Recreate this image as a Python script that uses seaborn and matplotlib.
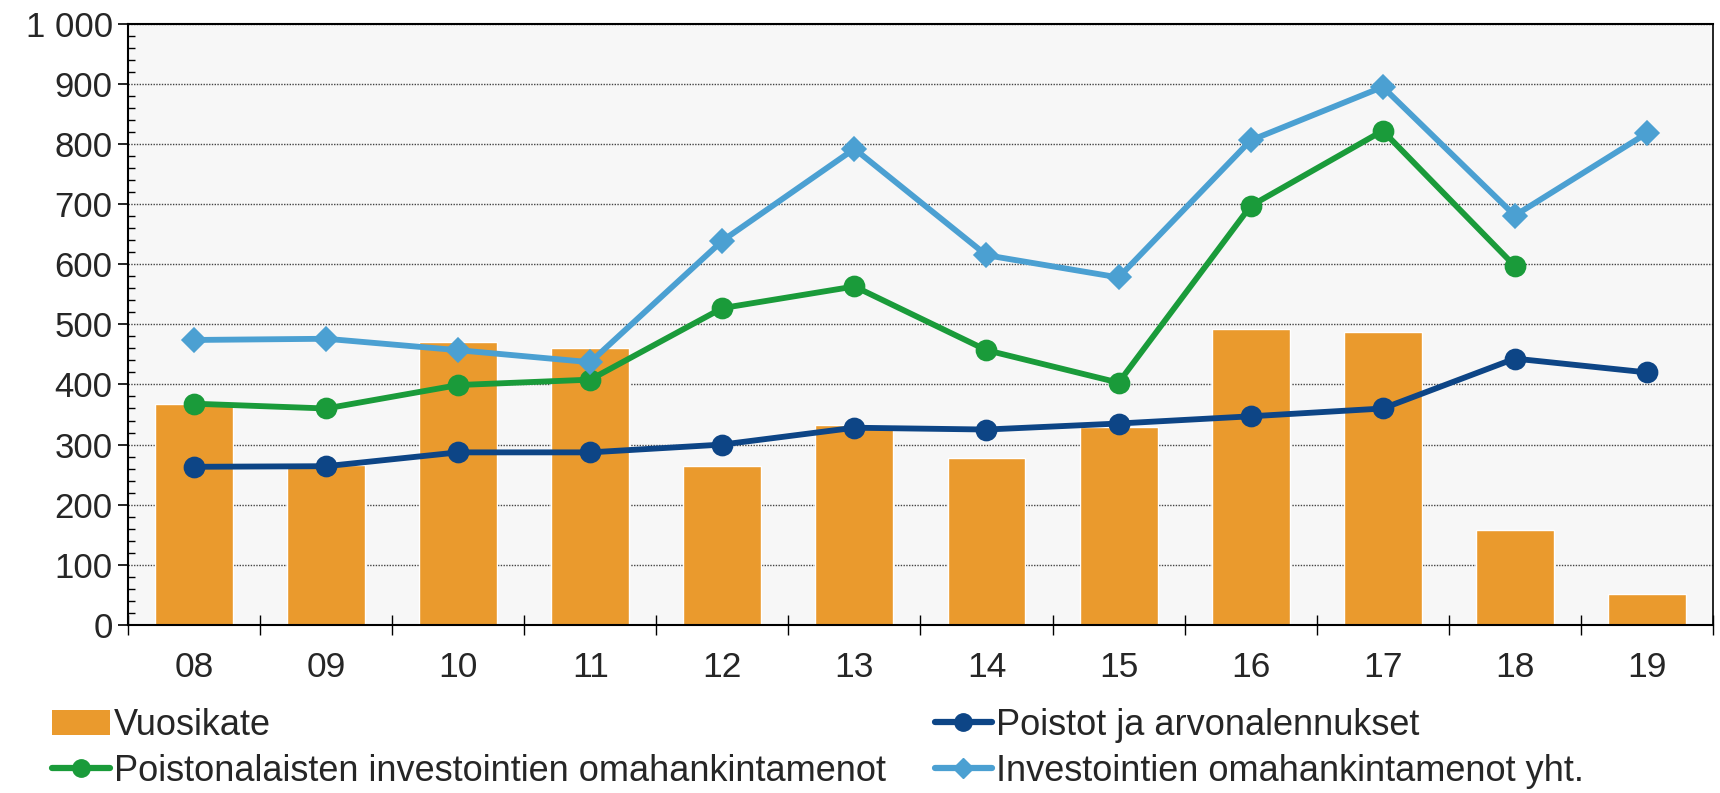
import numpy as np
import pandas as pd
import matplotlib
matplotlib.use("Agg")
import matplotlib.pyplot as plt
import seaborn as sns
from matplotlib.lines import Line2D
from matplotlib.patches import Patch
from matplotlib.ticker import MultipleLocator, FuncFormatter

# data
years = ["08", "09", "10", "11", "12", "13", "14", "15", "16", "17", "18", "19"]
vuosikate = [367, 266, 470, 460, 265, 333, 277, 330, 493, 487, 158, 52]
poistot = [263, 264, 287, 287, 300, 328, 325, 335, 347, 360, 443, 420]
poistonalaiset = [368, 360, 399, 408, 527, 563, 457, 403, 697, 822, 597, np.nan]
investoinnit_yht = [474, 476, 457, 437, 639, 792, 615, 578, 806, 895, 681, 818]

labels = ["Vuosikate", "Poistot ja arvonalennukset",
          "Poistonalaisten investointien omahankintamenot",
          "Investointien omahankintamenot yht."]

c_bar = "#EA9A2D"
c_poistot = "#0D4586"
c_green = "#1A9B3A"
c_light = "#4BA0D2"

sns.set_style("white")
plt.rcParams["font.family"] = ["Liberation Sans", "DejaVu Sans"]

fig = plt.figure(figsize=(17.2, 7.93), dpi=100)
ax = fig.add_axes([0.0744, 0.212, 0.9215, 0.758])
ax.set_facecolor("#F7F7F7")

df = pd.DataFrame({"vuosi": years, "arvo": vuosikate})
sns.barplot(data=df, x="vuosi", y="arvo", color=c_bar, saturation=1,
            width=0.59, ax=ax, zorder=2)

for vals, col, mk, ms in [(poistot, c_poistot, "o", 12.5),
                          (poistonalaiset, c_green, "o", 12.5),
                          (investoinnit_yht, c_light, "D", 10)]:
    sns.pointplot(x=years, y=vals, color=col, markers=mk, linestyles="-",
                  errorbar=None, ax=ax, linewidth=4.2, markersize=ms,
                  zorder=3)

ax.set_xlim(-0.5, len(years) - 0.5)
ax.set_ylim(0, 1000)
ax.yaxis.set_major_locator(MultipleLocator(100))
ax.yaxis.set_minor_locator(MultipleLocator(20))
ax.yaxis.set_major_formatter(FuncFormatter(lambda v, p: f"{int(v):,}".replace(",", " ")))
ax.grid(axis="y", which="major", color="#444444", linestyle=(0, (1, 1)), linewidth=1, zorder=1)
ax.set_axisbelow(True)

# category boundary ticks on x axis
ax.set_xticks(np.arange(len(years)))
ax.set_xticklabels(years)
ax.set_xticks(np.arange(-0.5, len(years), 1), minor=True)
ax.tick_params(axis="x", which="major", length=0, pad=19, labelsize=25.5)
ax.tick_params(axis="x", which="minor", length=14, direction="inout", width=1, color="black", bottom=True)
ax.tick_params(axis="y", which="major", length=7, direction="out", width=1.2, color="black", labelsize=25, pad=4, left=True)
ax.tick_params(axis="y", which="minor", length=5, direction="in", width=1, color="black", left=True)

for s in ax.spines.values():
    s.set_visible(True)
    s.set_color("black")
    s.set_linewidth(1.5)
ax.spines["right"].set_linewidth(1.2)
ax.set_xlabel("")
ax.set_ylabel("")

handles = [Patch(facecolor=c_bar, edgecolor="none"),
           Line2D([], [], color=c_green, lw=4.5, marker="o", ms=12.5),
           Line2D([], [], color=c_poistot, lw=4.5, marker="o", ms=12.5),
           Line2D([], [], color=c_light, lw=4.5, marker="D", ms=10)]
leg_labels = [labels[0], labels[2], labels[1], labels[3]]
fig.legend(handles, leg_labels, loc="upper left", bbox_to_anchor=(0.02, 0.13),
           ncol=2, frameon=False, fontsize=26, handlelength=1.6, handletextpad=0.1,
           columnspacing=1.35, labelspacing=0.3, borderpad=0)

fig.savefig("out.png", dpi=100)
